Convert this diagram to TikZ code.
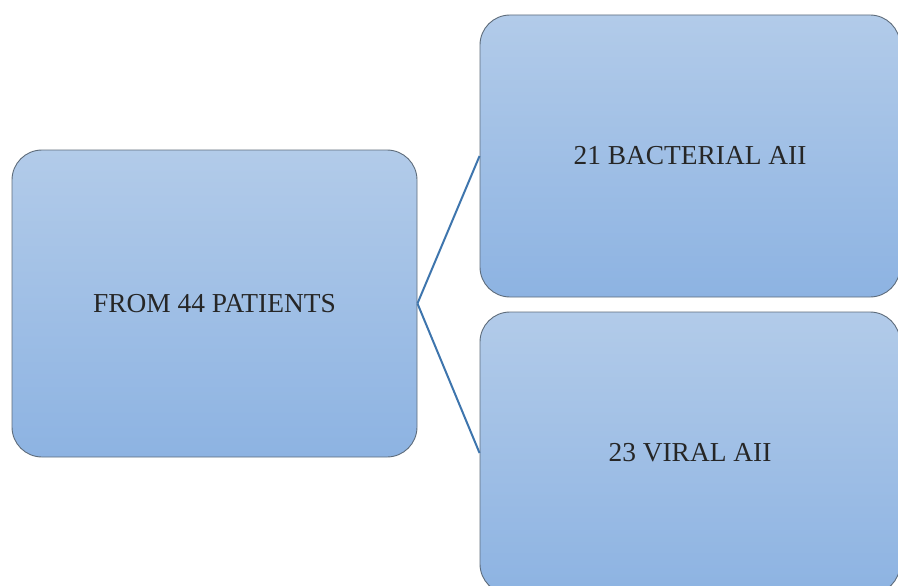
\documentclass[tikz,border=0pt]{standalone}
\usepackage{fontspec}
\setmainfont{Liberation Serif}
\begin{document}
\begin{tikzpicture}[x=1pt,y=-1pt,
  boxstyle/.style={draw=boxedge, line width=0.9pt, rounded corners=30pt,
    top color=boxtop, bottom color=boxbot, shading angle=0,
    inner sep=0pt, font=\fontsize{27.4}{32}\selectfont, text=black!85},
  link/.style={draw=linkblue, line width=2pt}]
\definecolor{boxtop}{HTML}{B2CBE9}
\definecolor{boxbot}{HTML}{8DB3E2}
\definecolor{boxedge}{HTML}{5E6C7B}
\definecolor{linkblue}{HTML}{3E75AD}
\useasboundingbox (0,0) rectangle (898,586);
\clip (0,0) rectangle (898,586);
\node[boxstyle, minimum width=405pt, minimum height=307pt] (src) at (214.5,303.5) {FROM 44 PATIENTS};
\node[boxstyle, minimum width=420pt, minimum height=282pt] (bac) at (690,156) {21 BACTERIAL AII};
\node[boxstyle, minimum width=420pt, minimum height=282pt] (vir) at (690,453) {23 VIRAL AII};
\draw[link] (src.east) -- (bac.west);
\draw[link] (src.east) -- (vir.west);
\end{tikzpicture}
\end{document}
